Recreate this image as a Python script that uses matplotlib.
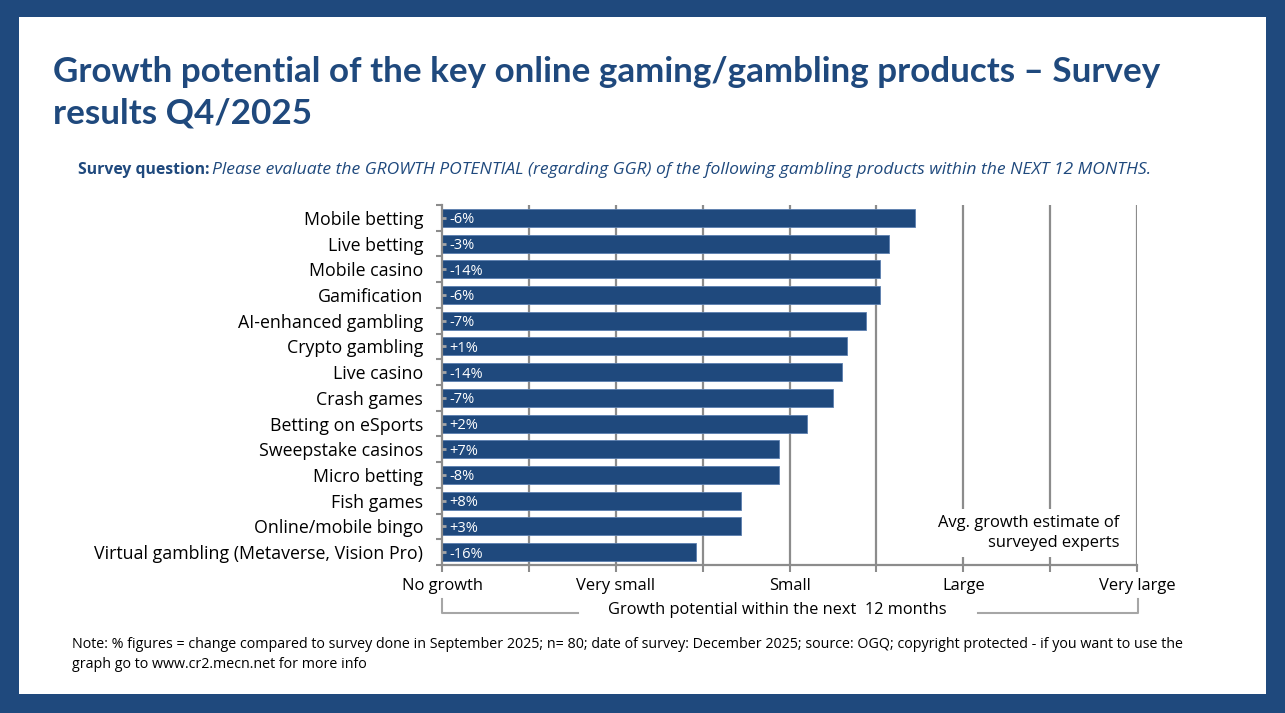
import matplotlib
matplotlib.use("Agg")
import matplotlib.pyplot as plt
from matplotlib.patches import Rectangle
from matplotlib.lines import Line2D

# ---------------- data ----------------
categories = ["Mobile betting", "Live betting", "Mobile casino", "Gamification",
              "AI-enhanced gambling", "Crypto gambling", "Live casino", "Crash games",
              "Betting on eSports", "Sweepstake casinos", "Micro betting", "Fish games",
              "Online/mobile bingo", "Virtual gambling (Metaverse, Vision Pro)"]
# scale: 1 = No growth ... 5 = Very large
values = [3.72, 3.57, 3.52, 3.52, 3.44, 3.33, 3.30, 3.25, 3.10, 2.94, 2.94, 2.72, 2.72, 2.46]
changes = ["-6%", "-3%", "-14%", "-6%", "-7%", "+1%", "-14%", "-7%", "+2%", "+7%",
           "-8%", "+8%", "+3%", "-16%"]
scale_labels = ["No growth", "Very small", "Small", "Large", "Very large"]
scale_values = [1, 2, 3, 4, 5]

# ---------------- style ----------------
W, H = 1285, 713
BLUE = "#1F497D"
GRID = "#8C8C8C"
TFONT = ["Lato", "DejaVu Sans"]
plt.rcParams["font.family"] = ["Open Sans", "DejaVu Sans"]

fig = plt.figure(figsize=(W / 100, H / 100), dpi=100)
fig.patch.set_facecolor(BLUE)


def fx(x):
    return x / W


def fy(y):
    return 1 - y / H


# white panel
fig.add_artist(Rectangle((fx(19), fy(694)), (1266 - 19) / W, (694 - 17) / H,
                         transform=fig.transFigure, facecolor="white",
                         edgecolor="none", zorder=0))

# title
fig.text(fx(53), fy(72), "Growth potential of the key online gaming/gambling products \u2013 Survey",
         fontsize=25.2, fontweight="bold", color=BLUE, ha="left", va="center", family=TFONT)
fig.text(fx(53), fy(113), "results Q4/2025",
         fontsize=25.2, fontweight="bold", color=BLUE, ha="left", va="center", family=TFONT)

# survey question
t1 = fig.text(fx(78), fy(170), "Survey question:", fontsize=11.3, fontweight="bold",
              color=BLUE, ha="left", va="center")
renderer = fig.canvas.get_renderer()
bb = t1.get_window_extent(renderer=renderer)
fig.text(bb.x1 / W + fx(3), fy(170),
         "Please evaluate the GROWTH POTENTIAL (regarding GGR) of the following gambling products within the NEXT 12 MONTHS.",
         fontsize=12.6, fontstyle="italic", color=BLUE, ha="left", va="center")

# axes
ax_left, ax_right, ax_top, ax_bottom = 442, 1137, 205, 565
ax = fig.add_axes([fx(ax_left), fy(ax_bottom), (ax_right - ax_left) / W, (ax_bottom - ax_top) / H])
ax.set_facecolor("none")

n = len(categories)
ypos = list(range(n))
widths = [v - scale_values[0] for v in values]

# gridlines
grid_x = [scale_values[0] + 0.5 * k for k in range(1, 9)]
ax.vlines(grid_x, -0.5, n - 0.5, color=GRID, lw=1.6, zorder=1)

ax.barh(ypos, widths, left=scale_values[0], height=0.7, color=BLUE,
        edgecolor="#5B7FAF", linewidth=0.6, zorder=2)

# small grey dashes at bar start + change labels
ax.hlines(ypos, scale_values[0], scale_values[0] + 0.025, color="#A6A6A6", lw=2, zorder=3)
for y, lab in zip(ypos, changes):
    ax.annotate(lab, xy=(scale_values[0], y), xytext=(5, 0), textcoords="offset points",
                ha="left", va="center_baseline", color="white", fontsize=10.5, zorder=4)

ax.set_xlim(scale_values[0], scale_values[-1])
ax.set_ylim(n - 0.5, -0.5)

ax.set_yticks(ypos)
ax.set_yticklabels(categories, fontsize=12.8, color="black")
ax.set_yticks([k - 0.5 for k in range(n + 1)], minor=True)
ax.tick_params(axis="y", which="major", length=0, pad=13.5)
ax.tick_params(axis="y", which="minor", length=4, width=1.5, color=GRID, direction="out")

ax.set_xticks(scale_values)
ax.set_xticklabels(scale_labels, fontsize=11.9, color="black")
ax.set_xticks([v + 0.5 for v in scale_values[:-1]], minor=True)
ax.tick_params(axis="x", which="both", length=5, width=1.5, color=GRID, direction="out", pad=4)

for s in ["top", "right"]:
    ax.spines[s].set_visible(False)
for s in ["left", "bottom"]:
    ax.spines[s].set_color(GRID)
    ax.spines[s].set_linewidth(1.6)

# expert estimate note
fig.text(fx(1119), fy(533), "Avg. growth estimate of\nsurveyed experts", fontsize=11.9,
         ha="right", va="center", multialignment="right", linespacing=1.4, color="black",
         bbox=dict(facecolor="white", edgecolor="none", pad=4), zorder=5)

# axis title with bracket
fig.text(fx(777), fy(610), "Growth potential within the next  12 months", fontsize=11.8,
         ha="center", va="center", color="black")
BR = "#A6A6A6"
for xs, ys in [([442, 442, 578], [599, 613, 613]), ([978, 1138, 1138], [613, 613, 599])]:
    fig.add_artist(Line2D([fx(x) for x in xs], [fy(y) for y in ys], color=BR, lw=1.5,
                          transform=fig.transFigure))

# note
fig.text(fx(72), fy(645),
         "Note: % figures = change compared to survey done in September 2025; n= 80; date of survey: December 2025; source: OGQ; copyright protected - if you want to use the",
         fontsize=10.3, ha="left", va="center", color="black")
fig.text(fx(72), fy(664), "graph go to www.cr2.mecn.net for more info",
         fontsize=10.3, ha="left", va="center", color="black")

fig.savefig("out.png", dpi=100, facecolor=fig.get_facecolor())
